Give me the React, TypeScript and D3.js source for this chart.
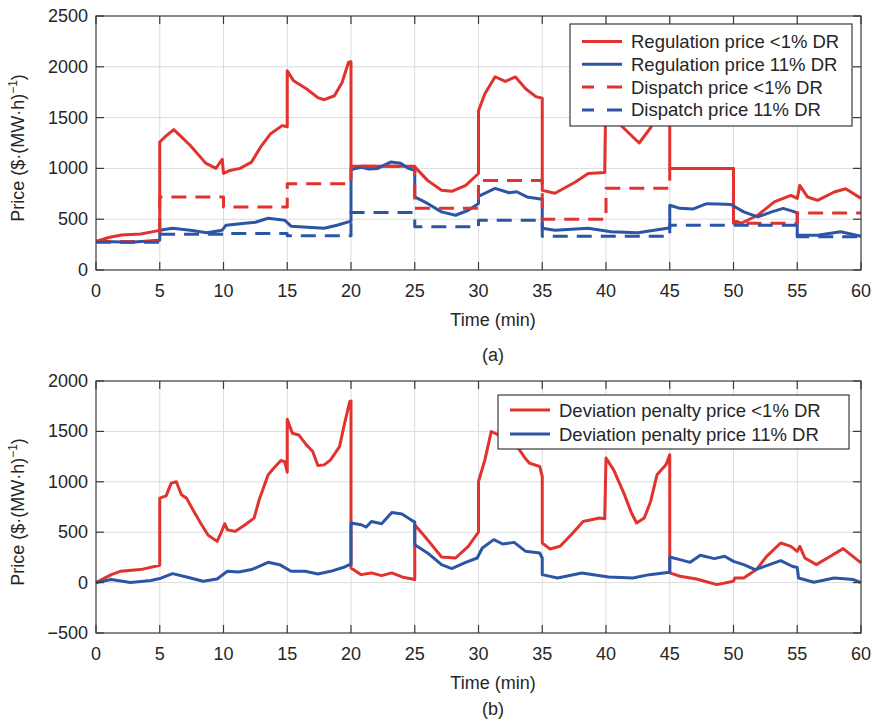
import React from 'react';
import * as d3 from 'd3';

type Pt = [number, number];

// (a) regulation prices, [minute, $/(MW·h)]
const regulationLow: Pt[] = [
  [0, 280], [1, 320], [2, 345], [3.5, 355], [5, 390], [5, 1260], [5.5, 1320], [6.1, 1382], [6.6, 1323],
  [7.4, 1225], [8.6, 1052], [9.4, 1000], [9.9, 1090], [10, 950], [10.5, 980], [11.3, 1000], [12.2, 1062],
  [12.9, 1209], [13.7, 1342], [14.6, 1421], [15, 1410], [15, 1960], [15.5, 1862], [16.5, 1784], [17.4, 1696],
  [17.9, 1676], [18.7, 1715], [19.3, 1846], [19.8, 2042], [20, 2050], [20, 1022], [24.5, 1022], [25, 1015],
  [26, 882], [27.1, 784], [27.9, 774], [29, 833], [30, 950], [30, 1568], [30.5, 1735], [31.3, 1902],
  [32.1, 1856], [32.9, 1900], [33.7, 1784], [34.5, 1706], [35, 1690], [35, 784], [36, 755], [37.6, 866],
  [38.6, 950], [39.9, 960], [40, 1850], [40.5, 1750], [41.2, 1420], [42.6, 1250], [43.5, 1400], [44.2, 1600],
  [45, 1800], [45, 1000], [50, 1000], [50, 490], [50.6, 460], [51.9, 539], [53.2, 670], [54.5, 735],
  [55, 705], [55.2, 833], [55.8, 719], [56.6, 686], [57.9, 768], [58.8, 800], [60, 705],
];

const regulationHigh: Pt[] = [
  [0, 284], [2.7, 274], [5, 294], [5, 392], [6, 411], [7.4, 392], [8.7, 366], [9.9, 392], [10.2, 441],
  [11.7, 460], [12.5, 470], [13.5, 509], [14.8, 490], [15.3, 431], [16.6, 421], [17.9, 411], [18.9, 441],
  [19.8, 474], [20, 480], [20, 990], [20.8, 1010], [21.4, 995], [22.1, 1000], [23.1, 1062], [23.9, 1050],
  [24.5, 1000], [25, 980], [25, 719], [26, 655], [27.1, 572], [28.2, 539], [29.2, 588], [30, 655], [30, 725],
  [31.3, 803], [32.4, 760], [33, 770], [33.8, 719], [35, 696], [35, 411], [36, 392], [38.6, 411], [40.4, 376],
  [42.5, 366], [44.8, 411], [45, 411], [45, 637], [45.8, 607], [46.8, 600], [47.9, 653], [48.8, 650],
  [49.8, 644], [50.8, 572], [51.9, 523], [53, 572], [53.9, 607], [54.8, 572], [55, 560], [55, 343],
  [56.6, 343], [58.4, 376], [60, 333],
];

// dispatch prices, one per 5-minute interval
const intervals = [0, 5, 10, 15, 20, 25, 30, 35, 40, 45, 50, 55];
const dispatchLow = [280, 719, 621, 850, 1020, 607, 882, 500, 804, 1000, 460, 562];
const dispatchHigh = [274, 352, 360, 336, 565, 425, 490, 333, 333, 441, 441, 327];

// (b) deviation penalty prices
const deviationLow: Pt[] = [
  [0, 0], [1.2, 79], [1.9, 112], [3.5, 129], [5, 172], [5, 838], [5.5, 860], [5.9, 987], [6.3, 1000],
  [6.7, 871], [7.1, 838], [7.6, 723], [8.2, 591], [8.8, 469], [9.5, 409], [9.8, 492], [10.1, 584], [10.3, 525],
  [10.9, 508], [11.7, 574], [12.4, 640], [12.8, 822], [13.5, 1069], [13.9, 1129], [14.5, 1211], [14.8, 1200],
  [15, 1096], [15, 1620], [15.4, 1482], [15.9, 1465], [16.5, 1366], [17, 1300], [17.4, 1161], [17.9, 1168],
  [18.4, 1218], [19.1, 1349], [19.5, 1581], [19.9, 1795], [20, 1800], [20, 145], [20.8, 79], [21.6, 96],
  [22.4, 69], [23.2, 96], [24, 56], [24.8, 36], [25, 30], [25, 574], [26, 426], [27.1, 254], [28.2, 244],
  [29.2, 360], [30, 502], [30, 1003], [30.5, 1218], [31, 1498], [31.5, 1470], [32, 1400], [32.6, 1380],
  [33.2, 1320], [33.6, 1244], [34, 1185], [34.8, 1152], [35, 1053], [35, 393], [35.6, 334], [36.4, 360],
  [37.4, 492], [38.2, 607], [39.5, 640], [39.9, 634], [40, 1235], [40.6, 1119], [41.4, 888], [42, 690],
  [42.4, 591], [43, 640], [43.5, 805], [44, 1069], [44.7, 1168], [45, 1267], [45, 96], [45.8, 63], [47.1, 36],
  [48.7, -20], [50, 13], [50.1, 46], [50.8, 46], [51.8, 129], [52.6, 261], [53.7, 393], [54.5, 360],
  [55, 310], [55.2, 360], [55.6, 244], [56.5, 178], [57.6, 261], [58.6, 337], [60, 195],
];

const deviationHigh: Pt[] = [
  [0, 0], [1.2, 30], [2.7, 0], [4.3, 20], [5, 40], [6, 89], [7.1, 56], [8.4, 13], [9.5, 36], [10.3, 112],
  [11.2, 105], [12.2, 129], [13.5, 201], [14.4, 178], [15.3, 112], [16.4, 112], [17.4, 86], [18.4, 112],
  [19.5, 155], [19.9, 178], [20, 180], [20, 591], [20.8, 574], [21.2, 551], [21.6, 607], [22.4, 584],
  [23.2, 696], [24, 680], [24.7, 624], [25, 600], [25, 376], [26, 294], [27.1, 178], [27.9, 139], [28.9, 195],
  [29.9, 244], [30.3, 343], [31.2, 426], [31.9, 383], [32.8, 399], [33.7, 310], [34.8, 294], [35, 244],
  [35, 79], [36.2, 46], [38.1, 96], [40.2, 56], [42.1, 46], [43.4, 79], [45, 102], [45, 254], [45.8, 228],
  [46.6, 201], [47.4, 271], [48.5, 238], [49.3, 261], [50, 211], [50.8, 178], [51.7, 129], [52.6, 168],
  [53.7, 218], [54.6, 162], [55, 150], [55.1, 46], [56.3, 3], [57.9, 46], [59.4, 30], [60, 0],
];

const xTicks = [0, 5, 10, 15, 20, 25, 30, 35, 40, 45, 50, 55, 60];
const yTicksA = [0, 500, 1000, 1500, 2000, 2500];
const yTicksB = [-500, 0, 500, 1000, 1500, 2000];

const legendA = ['Regulation price <1% DR', 'Regulation price 11% DR', 'Dispatch price <1% DR', 'Dispatch price 11% DR'];
const legendB = ['Deviation penalty price <1% DR', 'Deviation penalty price 11% DR'];

const RED = '#e1322d';
const BLUE = '#2c55a6';
const TEXT = '#262626';
const FONT = '"Liberation Sans", Arial, sans-serif';
const DASH = '15,9';

const steps = (vals: number[]): Pt[] => {
  const pts: Pt[] = intervals.map((t, i) => [t, vals[i]]);
  pts.push([60, vals[vals.length - 1]]);
  return pts;
};

type Series = { data: Pt[]; color: string; dashed?: boolean; step?: boolean };

const Panel = ({ top, bottom, yDomain, yTicks, series, legend, legendBox, tag, tagY, labelShift }: {
  top: number; bottom: number; yDomain: [number, number]; yTicks: number[];
  series: Series[]; legend: string[]; legendBox: { x: number; y: number; w: number; h: number; row0: number; gap: number };
  tag: string; tagY: number; labelShift: number;
}) => {
  const left = 96, right = 861;
  const x = d3.scaleLinear().domain([0, 60]).range([left, right]);
  const y = d3.scaleLinear().domain(yDomain).range([bottom, top]);
  const line = d3.line<Pt>().x(d => x(d[0])).y(d => y(d[1]));
  const stepLine = d3.line<Pt>().x(d => x(d[0])).y(d => y(d[1])).curve(d3.curveStepAfter);
  const tickLen = 8;
  const midY = (top + bottom) / 2 + labelShift;
  return (
    <g fontFamily={FONT} fill={TEXT}>
      {/* grid */}
      {xTicks.slice(1, -1).map(t => (
        <line key={'gx' + t} x1={x(t)} x2={x(t)} y1={top} y2={bottom} stroke="#dcdcdc" strokeWidth={1} />
      ))}
      {yTicks.slice(1, -1).map(v => (
        <line key={'gy' + v} x1={left} x2={right} y1={y(v)} y2={y(v)} stroke="#dcdcdc" strokeWidth={1} />
      ))}
      {/* series */}
      {series.map((s, i) => (
        <path key={i} d={(s.step ? stepLine : line)(s.data) || ''} fill="none" stroke={s.color}
          strokeWidth={3} strokeDasharray={s.dashed ? DASH : undefined} strokeLinejoin="round" />
      ))}
      {/* box + ticks */}
      <rect x={left} y={top} width={right - left} height={bottom - top} fill="none" stroke="#3a3a3a" strokeWidth={1.2} />
      {xTicks.map(t => (
        <g key={'tx' + t}>
          <line x1={x(t)} x2={x(t)} y1={bottom} y2={bottom - tickLen} stroke="#3a3a3a" strokeWidth={1.2} />
          <line x1={x(t)} x2={x(t)} y1={top} y2={top + tickLen} stroke="#3a3a3a" strokeWidth={1.2} />
          <text x={x(t)} y={bottom + 21} fontSize={18} textAnchor="middle" dominantBaseline="central">{t}</text>
        </g>
      ))}
      {yTicks.map(v => (
        <g key={'ty' + v}>
          <line x1={left} x2={left + tickLen} y1={y(v)} y2={y(v)} stroke="#3a3a3a" strokeWidth={1.2} />
          <line x1={right} x2={right - tickLen} y1={y(v)} y2={y(v)} stroke="#3a3a3a" strokeWidth={1.2} />
          <text x={88} y={y(v)} fontSize={18} textAnchor="end" dominantBaseline="central">{v < 0 ? '\u2212' + Math.abs(v) : v}</text>
        </g>
      ))}
      {/* axis labels */}
      <text x={493} y={bottom + 50} fontSize={18} textAnchor="middle" dominantBaseline="central">Time (min)</text>
      <text x={493} y={tagY} fontSize={18} textAnchor="middle" dominantBaseline="central">{tag}</text>
      <text transform={`translate(24,${midY}) rotate(-90)`} fontSize={18} textAnchor="middle">
        Price ($·(MW·h)<tspan fontSize={12} dy={-7}>−1</tspan><tspan dy={7}>)</tspan>
      </text>
      {/* legend */}
      <rect x={legendBox.x} y={legendBox.y} width={legendBox.w} height={legendBox.h} fill="#fff" stroke="#3a3a3a" strokeWidth={1.2} />
      {legend.map((lab, i) => {
        const ry = legendBox.row0 + i * legendBox.gap;
        const s = series[i];
        return (
          <g key={lab}>
            <line x1={legendBox.x + 12} x2={legendBox.x + 52} y1={ry} y2={ry} stroke={s.color} strokeWidth={3}
              strokeDasharray={s.dashed ? '12,13,15,0' : undefined} />
            <text x={legendBox.x + 61} y={ry} fontSize={18.5} dominantBaseline="central">{lab}</text>
          </g>
        );
      })}
    </g>
  );
};

const App = () => {
  const seriesA: Series[] = [
    { data: regulationLow, color: RED },
    { data: regulationHigh, color: BLUE },
    { data: steps(dispatchLow), color: RED, dashed: true, step: true },
    { data: steps(dispatchHigh), color: BLUE, dashed: true, step: true },
  ];
  const seriesB: Series[] = [
    { data: deviationLow, color: RED },
    { data: deviationHigh, color: BLUE },
  ];
  return (
    <svg width={872} height={721} style={{ position: 'absolute', left: 0, top: 0, background: '#fff' }}>
      <Panel top={16} bottom={270} yDomain={[0, 2500]} yTicks={yTicksA} series={seriesA} legend={legendA}
        legendBox={{ x: 570, y: 24, w: 282, h: 102, row0: 41.5, gap: 22.8 }} tag="(a)" tagY={355} labelShift={5} />
      <Panel top={381} bottom={633} yDomain={[-500, 2000]} yTicks={yTicksB} series={seriesB} legend={legendB}
        legendBox={{ x: 498, y: 395, w: 351, h: 54, row0: 410, gap: 24 }} tag="(b)" tagY={709} labelShift={5} />
    </svg>
  );
};

export default App;
